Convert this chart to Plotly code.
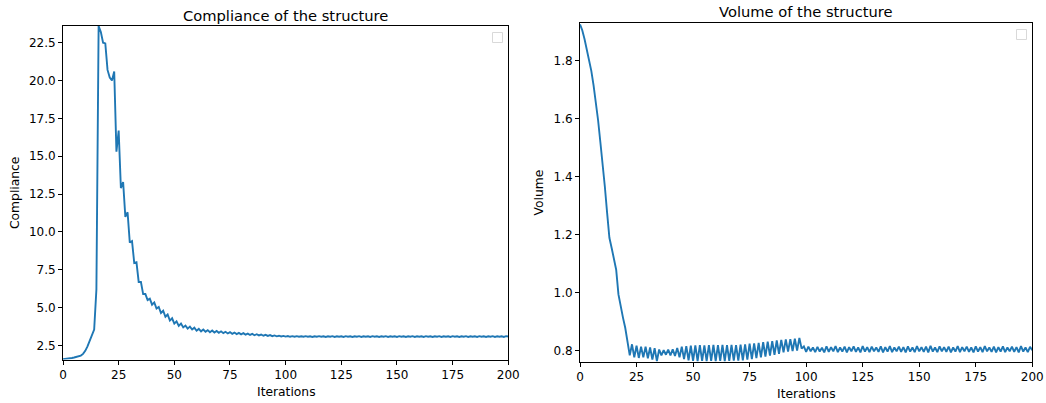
import plotly.graph_objects as go

iterations = list(range(0, 201))

compliance = [
    1.60, 1.61, 1.63, 1.65, 1.68, 1.71, 1.74, 1.78, 1.84, 1.95,
    2.15, 2.45, 2.85, 3.20, 3.55, 6.20, 23.60, 23.20, 22.50, 22.45,
    20.70, 20.20, 20.00, 20.60, 15.30, 16.70, 12.90, 13.30, 11.00, 11.30,
    9.30, 9.40, 7.95, 8.00, 6.70, 6.70, 5.90, 5.90, 5.50, 5.60,
    5.20, 5.35, 4.95, 5.05, 4.65, 4.80, 4.40, 4.55, 4.15, 4.30,
    3.95, 4.10, 3.80, 3.95, 3.70, 3.82, 3.62, 3.75, 3.56, 3.68,
    3.48, 3.60, 3.44, 3.56, 3.41, 3.52, 3.38, 3.49, 3.36, 3.46,
    3.34, 3.44, 3.32, 3.41, 3.30, 3.39, 3.28, 3.36, 3.26, 3.34,
    3.24, 3.32, 3.22, 3.29, 3.20, 3.27, 3.18, 3.25, 3.17, 3.23,
    3.15, 3.21, 3.14, 3.19, 3.12, 3.17, 3.11, 3.15, 3.10, 3.14,
    3.09, 3.13, 3.08, 3.12, 3.08, 3.12, 3.08, 3.11, 3.08, 3.12,
    3.08, 3.11, 3.07, 3.11, 3.08, 3.12, 3.08, 3.11, 3.07, 3.11,
    3.08, 3.12, 3.07, 3.11, 3.08, 3.11, 3.07, 3.12, 3.08, 3.11,
    3.07, 3.11, 3.08, 3.12, 3.07, 3.11, 3.08, 3.11, 3.07, 3.12,
    3.08, 3.11, 3.07, 3.11, 3.08, 3.12, 3.07, 3.11, 3.08, 3.11,
    3.07, 3.12, 3.08, 3.11, 3.07, 3.11, 3.08, 3.12, 3.07, 3.11,
    3.08, 3.11, 3.07, 3.12, 3.08, 3.11, 3.07, 3.11, 3.08, 3.12,
    3.07, 3.11, 3.08, 3.11, 3.07, 3.12, 3.08, 3.11, 3.07, 3.11,
    3.08, 3.12, 3.07, 3.11, 3.08, 3.11, 3.07, 3.12, 3.08, 3.11,
    3.07, 3.11, 3.08, 3.12, 3.07, 3.11, 3.08, 3.11, 3.07, 3.12,
    3.10,
]

volume = [
    1.925, 1.905, 1.875, 1.840, 1.800, 1.765, 1.715, 1.660, 1.595, 1.520,
    1.450, 1.365, 1.275, 1.190, 1.155, 1.120, 1.080, 0.995, 0.950, 0.915,
    0.880, 0.835, 0.785, 0.823, 0.778, 0.818, 0.776, 0.815, 0.778, 0.815,
    0.775, 0.812, 0.770, 0.810, 0.765, 0.805, 0.785, 0.803, 0.787, 0.805,
    0.785, 0.806, 0.783, 0.810, 0.778, 0.815, 0.772, 0.817, 0.768, 0.818,
    0.766, 0.819, 0.765, 0.820, 0.766, 0.819, 0.765, 0.820, 0.766, 0.821,
    0.765, 0.820, 0.766, 0.821, 0.765, 0.820, 0.766, 0.821, 0.767, 0.820,
    0.767, 0.822, 0.768, 0.823, 0.770, 0.825, 0.772, 0.826, 0.775, 0.828,
    0.778, 0.830, 0.781, 0.832, 0.784, 0.834, 0.787, 0.836, 0.790, 0.838,
    0.795, 0.840, 0.798, 0.841, 0.800, 0.842, 0.801, 0.845, 0.808, 0.816,
    0.797, 0.815, 0.799, 0.812, 0.796, 0.814, 0.798, 0.811, 0.795, 0.816,
    0.797, 0.813, 0.799, 0.817, 0.796, 0.812, 0.798, 0.815, 0.795, 0.813,
    0.799, 0.816, 0.797, 0.812, 0.795, 0.817, 0.798, 0.813, 0.796, 0.815,
    0.799, 0.812, 0.797, 0.816, 0.795, 0.813, 0.798, 0.817, 0.796, 0.812,
    0.799, 0.815, 0.797, 0.813, 0.795, 0.816, 0.798, 0.812, 0.796, 0.817,
    0.799, 0.813, 0.797, 0.815, 0.795, 0.818, 0.798, 0.812, 0.796, 0.816,
    0.799, 0.813, 0.797, 0.815, 0.795, 0.812, 0.798, 0.817, 0.796, 0.813,
    0.799, 0.815, 0.797, 0.812, 0.795, 0.816, 0.798, 0.813, 0.796, 0.817,
    0.799, 0.812, 0.797, 0.815, 0.795, 0.813, 0.798, 0.816, 0.796, 0.812,
    0.799, 0.815, 0.797, 0.813, 0.795, 0.817, 0.798, 0.812, 0.796, 0.814,
    0.803,
]

x_ticks = [0, 25, 50, 75, 100, 125, 150, 175, 200]
comp_ticks = [2.5, 5.0, 7.5, 10.0, 12.5, 15.0, 17.5, 20.0, 22.5]
vol_ticks = [0.8, 1.0, 1.2, 1.4, 1.6, 1.8]

titles = ["Compliance of the structure", "Volume of the structure"]
y_labels = ["Compliance", "Volume"]
x_label = "Iterations"

W, H = 1046, 403
FONT = "DejaVu Sans"
LINE = "#1f77b4"

fig = go.Figure()
fig.add_trace(go.Scatter(x=iterations, y=compliance, mode="lines",
                         line=dict(color=LINE, width=1.9), xaxis="x", yaxis="y",
                         showlegend=False, hoverinfo="skip"))
fig.add_trace(go.Scatter(x=iterations, y=volume, mode="lines",
                         line=dict(color=LINE, width=1.9), xaxis="x2", yaxis="y2",
                         showlegend=False, hoverinfo="skip"))

common = dict(showgrid=False, zeroline=False, showline=True, mirror=True,
              linecolor="black", linewidth=1, ticks="outside", ticklen=4,
              tickcolor="black", tickwidth=1, automargin=False,
              tickfont=dict(family=FONT, size=12, color="black"))


def label(text, x, y, size, angle=0):
    return dict(text=text, x=x / W, y=1 - y / H, xref="paper", yref="paper",
                xanchor="center", yanchor="middle", showarrow=False, textangle=angle,
                font=dict(family=FONT, size=size, color="black"))


fig.update_layout(
    width=W, height=H,
    margin=dict(l=0, r=0, t=0, b=0),
    paper_bgcolor="white", plot_bgcolor="white",
    font=dict(family=FONT, size=12, color="black"),
    xaxis=dict(domain=[63 / W, 508.3 / W], range=[0, 200], tickvals=x_ticks,
               anchor="y", **common),
    yaxis=dict(domain=[1 - 359.5 / H, 1 - 26 / H], range=[1.58, 23.6], tickvals=comp_ticks,
               ticktext=[f"{v:.1f}" for v in comp_ticks], anchor="x", **common),
    xaxis2=dict(domain=[580 / W, 1032.3 / W], range=[0, 200], tickvals=x_ticks,
                anchor="y2", **common),
    yaxis2=dict(domain=[1 - 362 / H, 1 - 23.3 / H], range=[0.762, 1.929], tickvals=vol_ticks,
                ticktext=[f"{v:.1f}" for v in vol_ticks], anchor="x2", **common),
    annotations=[
        label(titles[0], 285.5, 15, 14.7),
        label(titles[1], 806, 11.5, 14.7),
        label(x_label, 286, 391.5, 12.3),
        label(x_label, 806, 394, 12.3),
        label(y_labels[0], 15, 193, 12.3, -90),
        label(y_labels[1], 538.5, 193, 12.3, -90),
    ],
    shapes=[
        dict(type="rect", xref="paper", yref="paper",
             x0=492.5 / W, x1=502.5 / W, y0=1 - 42.5 / H, y1=1 - 32.5 / H,
             line=dict(color="#d9d9d9", width=1), fillcolor="white"),
        dict(type="rect", xref="paper", yref="paper",
             x0=1016.5 / W, x1=1026.5 / W, y0=1 - 39.5 / H, y1=1 - 29.5 / H,
             line=dict(color="#d9d9d9", width=1), fillcolor="white"),
    ],
)

fig.write_html("out.html", config={"displayModeBar": False},
               post_script="document.body.style.margin='0';document.body.style.overflow='hidden';")
